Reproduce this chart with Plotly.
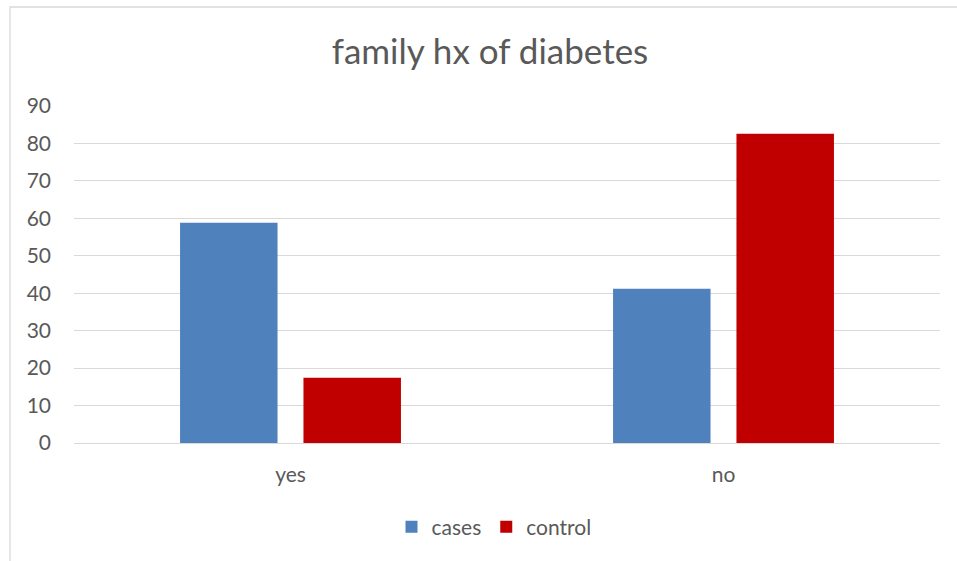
import plotly.graph_objects as go

# Family history of diabetes, percentage by group
categories = ["yes", "no"]
cases = [58.8, 41.2]
control = [17.4, 82.6]
y_ticks = [0, 10, 20, 30, 40, 50, 60, 70, 80, 90]

W, H = 957, 561
L, R, T, B = 74, 17, 106, 118
pw, ph = W - L - R, H - T - B

def px_x(x):
    return (x - L) / pw

def px_y(y):
    return (H - B - y) / ph

text_color = "#595959"
grid_color = "#D9D9D9"
font_family = "Lato, 'Open Sans', sans-serif"
label_size = 21

fig = go.Figure()
fig.add_trace(go.Bar(name="cases", x=categories, y=cases,
                     marker=dict(color="#4F81BD", line=dict(width=0))))
fig.add_trace(go.Bar(name="control", x=categories, y=control,
                     marker=dict(color="#C00000", line=dict(width=0))))

fig.update_layout(
    width=W, height=H,
    margin=dict(l=L, r=R, t=T, b=B, pad=0),
    paper_bgcolor="white", plot_bgcolor="white",
    barmode="group", bargap=0.43, bargroupgap=0.21,
    font=dict(family=font_family, color=text_color, size=label_size),
    title=dict(text="family hx of diabetes", x=490 / W, xanchor="center",
               y=1 - 52 / H, yanchor="middle",
               font=dict(size=35, color=text_color, family=font_family)),
    xaxis=dict(showgrid=False, showline=False, ticks="",
               tickfont=dict(size=label_size, color=text_color),
               ticklabelstandoff=17),
    yaxis=dict(range=[0, 90], tickvals=y_ticks, showgrid=True,
               gridcolor=grid_color, gridwidth=1.3,
               zeroline=True, zerolinecolor=grid_color, zerolinewidth=1.3,
               showline=False, ticks="",
               tickfont=dict(size=label_size, color=text_color),
               ticklabelstandoff=22),
    legend=dict(orientation="h", x=px_x(494), xanchor="center",
                y=px_y(527), yanchor="middle",
                font=dict(size=label_size, color=text_color),
                itemwidth=30, traceorder="normal"),
    shapes=[dict(type="rect", xref="paper", yref="paper",
                 x0=px_x(10), x1=px_x(970), y0=px_y(580), y1=px_y(7),
                 line=dict(color=grid_color, width=1.3),
                 fillcolor="rgba(0,0,0,0)", layer="below")],
)

fig.write_html("out.html")
